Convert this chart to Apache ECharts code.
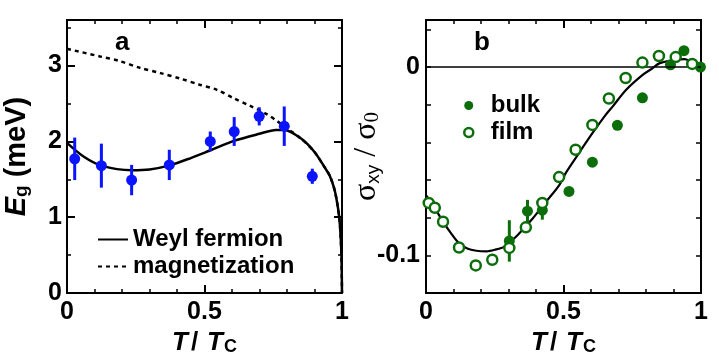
<!DOCTYPE html>
<html><head><meta charset="utf-8">
<script src="https://cdn.jsdelivr.net/npm/echarts@6/dist/echarts.min.js"></script>
<style>html,body{margin:0;padding:0;background:#fff}#c{width:719px;height:361px}</style>
</head><body><div id="c"></div>
<script>
// ---- Panel a : gap energy vs T/Tc ----
const weylT = [0, 0.06, 0.125, 0.235, 0.3, 0.37, 0.45, 0.52, 0.61, 0.7, 0.76, 0.79, 0.85, 0.9, 0.94, 0.955, 0.97, 0.98, 0.99, 0.995, 0.998, 1];
const weylE = [1.98, 1.8, 1.68, 1.62, 1.63, 1.68, 1.78, 1.88, 2.01, 2.1, 2.15, 2.15, 2.04, 1.86, 1.64, 1.55, 1.40, 1.24, 1.0, 0.75, 0.5, 0];
const magT = [0, 0.12, 0.19, 0.265, 0.34, 0.41, 0.48, 0.545, 0.605, 0.665, 0.726, 0.763, 0.8, 0.85, 0.9, 0.94, 0.955, 0.97, 0.98, 0.99, 0.995, 0.998, 1];
const magE = [3.22, 3.12, 3.06, 2.97, 2.9, 2.83, 2.75, 2.68, 2.57, 2.47, 2.36, 2.27, 2.17, 2.04, 1.86, 1.64, 1.55, 1.40, 1.24, 1.0, 0.75, 0.5, 0];
const gapT = [0.028, 0.125, 0.235, 0.372, 0.521, 0.608, 0.699, 0.79, 0.892];
const gapE = [1.77, 1.68, 1.49, 1.69, 2.0, 2.13, 2.33, 2.2, 1.54];
const gapErr = [0.28, 0.29, 0.2, 0.2, 0.13, 0.19, 0.12, 0.26, 0.1];

// ---- Panel b : sigma_xy / sigma_0 vs T/Tc ----
const curveT = [0, 0.03, 0.062, 0.09, 0.12, 0.15, 0.183, 0.22, 0.25, 0.285, 0.327, 0.36, 0.388, 0.436, 0.484, 0.51, 0.55, 0.607, 0.65, 0.68, 0.728, 0.789, 0.82, 0.85, 0.898, 0.941, 0.971, 1];
const curveS = [-0.068, -0.0745, -0.082, -0.088, -0.0935, -0.0963, -0.0975, -0.0978, -0.097, -0.0953, -0.0901, -0.085, -0.0804, -0.0716, -0.0628, -0.0558, -0.047, -0.0347, -0.026, -0.0207, -0.012, -0.004, -0.001, 0.0021, 0.0035, 0.0042, 0.0021, 0];
const filmT = [0.01, 0.032, 0.062, 0.12, 0.181, 0.241, 0.303, 0.363, 0.423, 0.484, 0.544, 0.605, 0.665, 0.726, 0.787, 0.847, 0.908, 0.968];
const filmS = [-0.0721, -0.0747, -0.0821, -0.0958, -0.1053, -0.1023, -0.096, -0.0851, -0.0721, -0.0584, -0.0439, -0.0307, -0.0167, -0.0058, 0.0024, 0.0059, 0.0053, 0.0017];
const bulkT = [0.303, 0.369, 0.423, 0.52, 0.605, 0.696, 0.787, 0.889, 0.938, 0.998];
const bulkS = [-0.0923, -0.0765, -0.076, -0.066, -0.0505, -0.0309, -0.0163, 0.0012, 0.0087, 0];
const bulkErr = [0.011, 0.006, 0.005, 0, 0, 0, 0, 0, 0, 0];

// ---- tick labels ----
const xTickLabels = {0: '0', 0.5: '0.5', 1: '1'};
const yTickLabelsA = {0: '0', 1: '1', 2: '2', 3: '3'};
const yTickLabelsB = {'0': '0', '-0.1': '-0.1'};

const FONT = 'Liberation Sans, Arial, Helvetica, sans-serif';
const SERIF = 'Liberation Serif, Times New Roman, serif';
const BLUE = '#0a14ff';
const GREEN = '#0b6e0b';

function lookup(table, v) {
  for (const k in table) { if (Math.abs(parseFloat(k) - v) < 1e-9) return table[k]; }
  return '';
}

const chart = echarts.init(document.getElementById('c'), null, {renderer: 'canvas'});

const noLine = {show: false, onZero: false};

function xAxes(gi) {
  const base = {
    type: 'value', gridIndex: gi, min: 0, max: 1, interval: 0.5,
    axisLine: noLine, splitLine: {show: false},
    axisTick: {show: true, inside: true, length: 8, lineStyle: {color: '#000', width: 2}},
    minorTick: {show: true, splitNumber: 5, length: 4, lineStyle: {color: '#000', width: 1.5}}
  };
  return [
    Object.assign({}, base, {
      position: 'bottom',
      axisLabel: {show: true, margin: 7, color: '#000', fontFamily: FONT, fontWeight: 'bold', fontSize: 25,
        formatter: v => lookup(xTickLabels, v)},
      name: '{i|T}{n|/}{i|T}{s|C}', nameLocation: 'middle', nameGap: 18,
      nameTextStyle: {rich: {
        i: {fontFamily: FONT, fontWeight: 'bold', fontStyle: 'italic', fontSize: 26, color: '#000', lineHeight: 26, verticalAlign: 'bottom'},
        n: {fontFamily: FONT, fontWeight: 'bold', fontSize: 26, color: '#000', lineHeight: 26, verticalAlign: 'bottom', padding: [0, 9, 0, 3]},
        s: {fontFamily: FONT, fontWeight: 'bold', fontSize: 18, color: '#000', lineHeight: 10, verticalAlign: 'bottom', padding: [0, 0, 0, 1]}
      }}
    }),
    Object.assign({}, base, {position: 'top', axisLabel: {show: false}})
  ];
}

function yAxesA() {
  const common = {type: 'value', gridIndex: 0, min: 0, max: 3.6, axisLine: noLine, splitLine: {show: false}};
  return [
    Object.assign({}, common, {position: 'left', interval: 1,
      axisTick: {show: true, inside: true, length: 8, lineStyle: {color: '#000', width: 2}},
      axisLabel: {show: true, margin: 5, color: '#000', fontFamily: FONT, fontWeight: 'bold', fontSize: 25,
        formatter: v => lookup(yTickLabelsA, v)},
      name: '{i|E}{s|g}{n| (meV)}', nameLocation: 'middle', nameGap: 36, nameRotate: 90,
      nameTextStyle: {rich: {
        i: {fontFamily: FONT, fontWeight: 'bold', fontStyle: 'italic', fontSize: 29, color: '#000', lineHeight: 29, verticalAlign: 'bottom'},
        n: {fontFamily: FONT, fontWeight: 'bold', fontSize: 29, color: '#000', lineHeight: 29, verticalAlign: 'bottom'},
        s: {fontFamily: FONT, fontWeight: 'bold', fontSize: 19, color: '#000', lineHeight: 12, verticalAlign: 'bottom'}
      }}
    }),
    Object.assign({}, common, {position: 'left', interval: 0.5,
      axisTick: {show: true, inside: true, length: 4, lineStyle: {color: '#000', width: 1.5}}, axisLabel: {show: false}}),
    Object.assign({}, common, {position: 'right', interval: 1,
      axisTick: {show: true, inside: true, length: 8, lineStyle: {color: '#000', width: 2}}, axisLabel: {show: false}}),
    Object.assign({}, common, {position: 'right', interval: 0.5,
      axisTick: {show: true, inside: true, length: 4, lineStyle: {color: '#000', width: 1.5}}, axisLabel: {show: false}})
  ];
}

function yAxesB() {
  const common = {type: 'value', gridIndex: 1, min: -0.12, max: 0.025, interval: 0.02,
    axisLine: noLine, splitLine: {show: false},
    axisTick: {show: true, inside: true, length: 5, lineStyle: {color: '#000', width: 1.5}}};
  return [
    Object.assign({}, common, {position: 'left',
      axisLabel: {show: true, margin: 6, color: '#000', fontFamily: FONT, fontWeight: 'bold', fontSize: 25,
        formatter: v => lookup(yTickLabelsB, v)},
      name: '{g|σ}{s|xy}{g| / σ}{t|0}', nameLocation: 'middle', nameGap: 43, nameRotate: 90,
      nameMoveOverlap: false,
      nameTextStyle: {rich: {
        g: {fontFamily: SERIF, fontSize: 32, color: '#000', lineHeight: 30, verticalAlign: 'bottom'},
        s: {fontFamily: FONT, fontSize: 19, color: '#000', lineHeight: 12, verticalAlign: 'bottom'},
        t: {fontFamily: SERIF, fontSize: 21, color: '#000', lineHeight: 12, verticalAlign: 'bottom'}
      }}
    }),
    Object.assign({}, common, {position: 'right', axisLabel: {show: false}})
  ];
}

function errBars(xIdx, yIdx, xs, ys, es, color) {
  return {
    type: 'custom', xAxisIndex: xIdx, yAxisIndex: yIdx, silent: true, z: 3,
    data: xs.map((x, i) => [x, ys[i] - es[i], ys[i] + es[i]]).filter(d => d[2] > d[1]),
    encode: {x: 0, y: [1, 2]},
    renderItem: (params, api) => {
      const lo = api.coord([api.value(0), api.value(1)]);
      const hi = api.coord([api.value(0), api.value(2)]);
      return {type: 'line', shape: {x1: lo[0], y1: lo[1], x2: hi[0], y2: hi[1]},
        style: {stroke: color, lineWidth: 3}};
    }
  };
}

const option = {
  animation: false,
  backgroundColor: '#fff',
  title: [
    {text: 'a', left: 110, top: 25, textStyle: {fontFamily: FONT, fontWeight: 'bold', fontSize: 26, color: '#000'}},
    {text: 'b', left: 469, top: 25, textStyle: {fontFamily: FONT, fontWeight: 'bold', fontSize: 26, color: '#000'}}
  ],
  grid: [
    {left: 67, top: 20, width: 275, height: 275, show: true, borderColor: '#000', borderWidth: 2, backgroundColor: 'transparent'},
    {left: 426, top: 20, width: 275, height: 275, show: true, borderColor: '#000', borderWidth: 2, backgroundColor: 'transparent'}
  ],
  legend: [
    {data: ['Weyl fermion', 'magnetization'], orient: 'vertical', left: 97, top: 226, padding: 0,
      itemWidth: 30, itemHeight: 14, itemGap: 0,
      itemStyle: {color: 'rgba(0,0,0,0)', borderWidth: 0},
      selectedMode: false, textStyle: {fontFamily: FONT, fontWeight: 'bold', fontSize: 24, color: '#000', lineHeight: 27}},
    {data: [
        {name: 'bulk', icon: 'circle', itemStyle: {color: GREEN, borderWidth: 0}},
        {name: 'film', icon: 'circle', itemStyle: {color: '#fff', borderColor: GREEN, borderWidth: 2.5}}
      ], orient: 'vertical', left: 463, top: 92, padding: 0, itemWidth: 34, itemHeight: 9, itemGap: 0,
      selectedMode: false, textStyle: {fontFamily: FONT, fontWeight: 'bold', fontSize: 24, color: '#000', lineHeight: 27}}
  ],
  xAxis: xAxes(0).concat(xAxes(1)),
  yAxis: yAxesA().concat(yAxesB()),
  series: [
    {name: 'Weyl fermion', type: 'line', xAxisIndex: 0, yAxisIndex: 0, data: weylT.map((t, i) => [t, weylE[i]]),
      symbol: 'none', smooth: 0.3, lineStyle: {color: '#000', width: 2.5}, itemStyle: {color: '#000'}, z: 2},
    {name: 'magnetization', type: 'line', xAxisIndex: 0, yAxisIndex: 0, data: magT.map((t, i) => [t, magE[i]]),
      symbol: 'none', smooth: 0.3, lineStyle: {color: '#000', width: 2.5, type: [4, 4]}, itemStyle: {color: '#000'}, z: 2},
    errBars(0, 0, gapT, gapE, gapErr, BLUE),
    {name: 'gap', type: 'scatter', xAxisIndex: 0, yAxisIndex: 0, data: gapT.map((t, i) => [t, gapE[i]]),
      symbol: 'circle', symbolSize: 11, itemStyle: {color: BLUE, opacity: 1}, z: 4},

    {name: 'theory', type: 'line', xAxisIndex: 2, yAxisIndex: 4, data: curveT.map((t, i) => [t, curveS[i]]),
      symbol: 'none', smooth: 0.3, lineStyle: {color: '#000', width: 2.2}, z: 2,
      markLine: {silent: true, symbol: 'none', label: {show: false}, lineStyle: {color: '#000', width: 1.5, type: 'solid'},
        data: [{yAxis: 0}]}},
    errBars(2, 4, bulkT, bulkS, bulkErr, GREEN),
    {name: 'bulk', type: 'scatter', xAxisIndex: 2, yAxisIndex: 4, data: bulkT.map((t, i) => [t, bulkS[i]]),
      symbol: 'circle', symbolSize: 11, itemStyle: {color: GREEN, opacity: 1}, z: 4},
    {name: 'film', type: 'scatter', xAxisIndex: 2, yAxisIndex: 4, data: filmT.map((t, i) => [t, filmS[i]]),
      symbol: 'circle', symbolSize: 10, itemStyle: {color: '#fff', borderColor: GREEN, borderWidth: 2.5, opacity: 1}, z: 5}
  ]
};
chart.setOption(option);
</script>
</body></html>
